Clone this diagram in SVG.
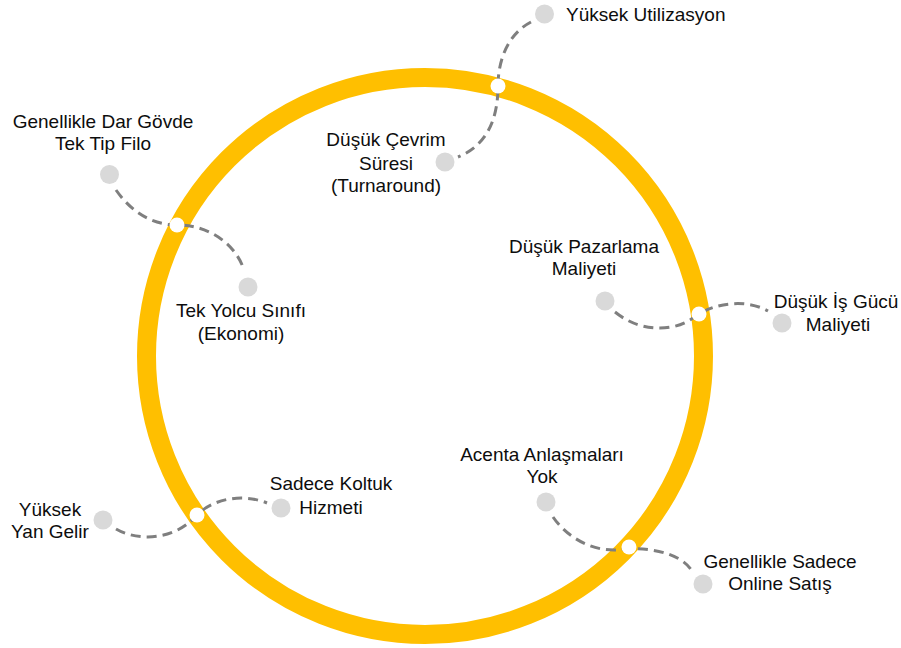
<svg xmlns="http://www.w3.org/2000/svg" width="901" height="648" viewBox="0 0 901 648">
  <style>
    .ring { fill: none; stroke: #FFBF00; stroke-width: 19; }
    .link { fill: none; stroke: #7F7F7F; stroke-width: 3; stroke-dasharray: 10 6; }
    .joint { fill: #FFFFFF; }
    .dot { fill: #D9D9D9; }
    text { font-family: "Liberation Sans", Arial, sans-serif; font-size: 19px; fill: #0D0D0D; }
    .c { text-anchor: middle; }
  </style>

  <rect width="901" height="648" fill="#FFFFFF"/>

  <!-- main ring -->
  <g id="ring">
    <circle class="ring" cx="425" cy="356" r="278.5"/>
  </g>

  <!-- dashed connectors crossing the ring -->
  <g id="connectors">
    <path class="link" d="M 531 22 C 508 34 498 60 498 86 C 498 122 485 146 458 157"/>
    <path class="link" d="M 116 190 C 130 210 150 225 177 225 C 210 225 236 245 244 270"/>
    <path class="link" d="M 615 312 C 630 324 645 328 660 328 C 680 328 690 320 699 314 C 715 304 745 298 768 311"/>
    <path class="link" d="M 116 529 C 135 540 172 543 197 515 C 215 497 245 494 267 503"/>
    <path class="link" d="M 553 517 C 566 536 590 551 616 550 C 642 546 680 551 692 571"/>
    <circle class="joint" cx="498" cy="86" r="7.5"/>
    <circle class="joint" cx="177" cy="225" r="7.5"/>
    <circle class="joint" cx="699" cy="314" r="7.5"/>
    <circle class="joint" cx="197" cy="515" r="7.5"/>
    <circle class="joint" cx="629" cy="547" r="7.5"/>
  </g>

  <g id="yuksek-utilizasyon">
    <circle class="dot" cx="544.5" cy="14" r="9.5"/>
    <text x="566" y="21">Yüksek Utilizasyon</text>
  </g>

  <g id="dusuk-cevrim-suresi">
    <circle class="dot" cx="445" cy="162" r="9.5"/>
    <text class="c" x="386" y="146">Düşük Çevrim</text>
    <text class="c" x="386" y="169.5">Süresi</text>
    <text class="c" x="386" y="192">(Turnaround)</text>
  </g>

  <g id="dar-govde-filo">
    <circle class="dot" cx="109.5" cy="174.5" r="9.5"/>
    <text class="c" x="103" y="128">Genellikle Dar Gövde</text>
    <text class="c" x="103" y="150">Tek Tip Filo</text>
  </g>

  <g id="tek-yolcu-sinifi">
    <circle class="dot" cx="248" cy="287" r="9.5"/>
    <text class="c" x="241" y="317">Tek Yolcu Sınıfı</text>
    <text class="c" x="241" y="340">(Ekonomi)</text>
  </g>

  <g id="dusuk-pazarlama">
    <circle class="dot" cx="605" cy="301" r="9.5"/>
    <text class="c" x="584" y="253">Düşük Pazarlama</text>
    <text class="c" x="584" y="275">Maliyeti</text>
  </g>

  <g id="dusuk-is-gucu">
    <circle class="dot" cx="782" cy="323" r="9.5"/>
    <text class="c" x="836" y="308">Düşük İş Gücü</text>
    <text class="c" x="838" y="331">Maliyeti</text>
  </g>

  <g id="yuksek-yan-gelir">
    <circle class="dot" cx="103" cy="520" r="9.5"/>
    <text class="c" x="50" y="516">Yüksek</text>
    <text class="c" x="50" y="538">Yan Gelir</text>
  </g>

  <g id="sadece-koltuk">
    <circle class="dot" cx="281" cy="508" r="9.5"/>
    <text class="c" x="331" y="490">Sadece Koltuk</text>
    <text class="c" x="331" y="514">Hizmeti</text>
  </g>

  <g id="acenta-anlasmalari">
    <circle class="dot" cx="546" cy="502" r="9.5"/>
    <text class="c" x="542" y="461">Acenta Anlaşmaları</text>
    <text class="c" x="542" y="483">Yok</text>
  </g>

  <g id="online-satis">
    <circle class="dot" cx="703" cy="584" r="9.5"/>
    <text class="c" x="780" y="568">Genellikle Sadece</text>
    <text class="c" x="780" y="590">Online Satış</text>
  </g>
</svg>
